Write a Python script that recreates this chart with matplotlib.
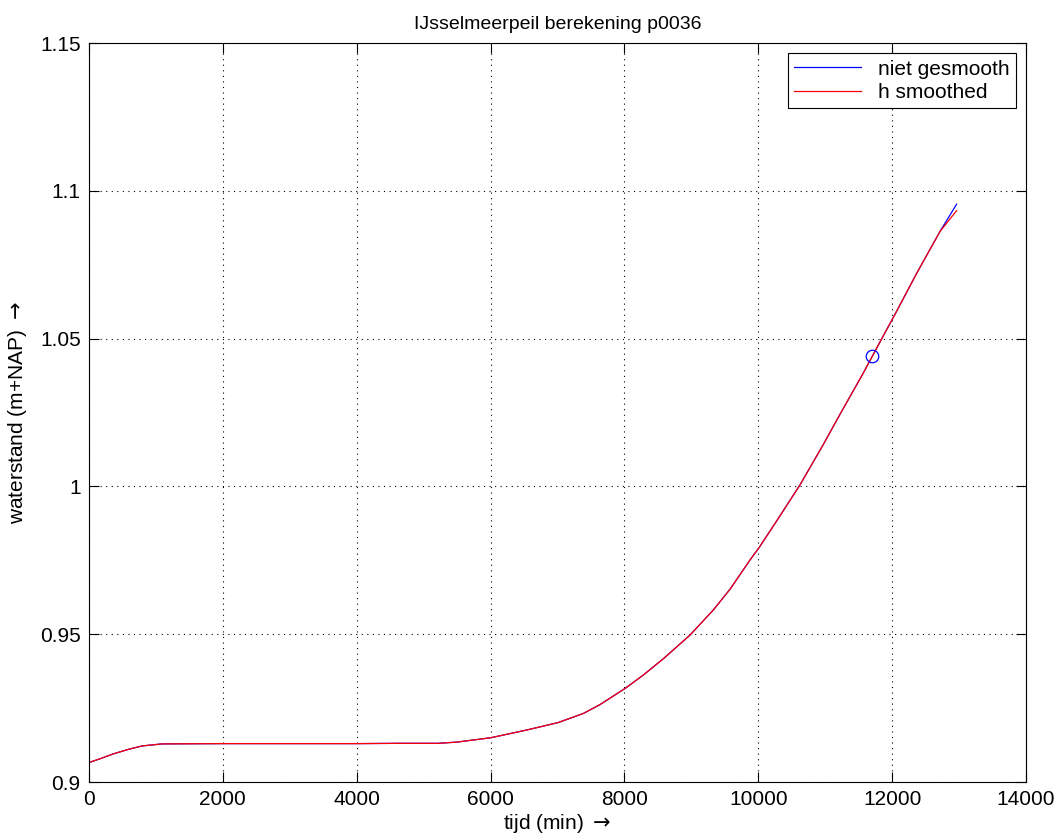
import matplotlib
matplotlib.use('Agg')
import matplotlib.pyplot as plt

# tijd (min) en waterstand (m+NAP)
t = [0, 180, 360, 580, 790, 1090, 2000, 3000, 4000, 4650, 5215, 5493, 6006,
     6540, 7007, 7386, 7635, 8019, 8282, 8581, 8979, 9328, 9577, 9876, 10015,
     10274, 10623, 10972, 11221, 11570, 11703, 11843, 12028, 12367, 12714]
h = [0.9066, 0.9080, 0.9095, 0.9110, 0.9122, 0.9129, 0.9130, 0.9130, 0.9130,
     0.9131, 0.9131, 0.9135, 0.9150, 0.9176, 0.9201, 0.9232, 0.9262, 0.9318,
     0.9362, 0.9417, 0.9497, 0.9582, 0.9652, 0.9751, 0.9794, 0.9883, 1.0005,
     1.0142, 1.0244, 1.0384, 1.0440, 1.0499, 1.0576, 1.0721, 1.0862]

# eindpunten verschillen iets
t_raw = t + [12964]
h_raw = h + [1.0955]
t_sm = t + [12964]
h_sm = h + [1.0933]

t_mark = [11703]
h_mark = [1.0440]

plt.rcParams['font.family'] = ['Liberation Sans', 'DejaVu Sans']
plt.rcParams['mathtext.fontset'] = 'dejavusans'

fig = plt.figure(figsize=(10.61, 8.4), dpi=100)
ax = fig.add_axes([0.0839, 0.0690, 0.8831, 0.8798])

ax.plot(t_raw, h_raw, color='blue', lw=0.9, label='niet gesmooth')
ax.plot(t_sm, h_sm, color='red', lw=0.9, label='h smoothed')
ax.plot(t_mark, h_mark, 'o', color='blue', mfc='none', ms=9, mew=0.9)

ax.set_xlim(0, 14000)
ax.set_ylim(0.9, 1.15)
ax.set_xticks(range(0, 14001, 2000))
ax.set_yticks([0.9, 0.95, 1.0, 1.05, 1.1, 1.15])
ax.set_yticklabels(['0.9', '0.95', '1', '1.05', '1.1', '1.15'])
ax.tick_params(direction='in', top=True, right=True, length=7, width=0.8,
               labelsize=15, pad=6)
ax.grid(True, color='black', linestyle=(0, (1, 4)), linewidth=0.8)
for s in ax.spines.values():
    s.set_linewidth(0.8)

ax.set_title('IJsselmeerpeil berekening p0036', fontsize=14, pad=10)
ax.set_xlabel(r'tijd (min) $\rightarrow$', fontsize=15, labelpad=2)
ax.set_ylabel(r'waterstand (m+NAP) $\rightarrow$', fontsize=15, labelpad=8)

leg = ax.legend(loc='upper right', fontsize=15, handlelength=3.2,
                fancybox=False, edgecolor='black', framealpha=1,
                borderaxespad=0.5, labelspacing=0.2, borderpad=0.3)
leg.get_frame().set_linewidth(0.8)

fig.savefig('out.png', dpi=100)
